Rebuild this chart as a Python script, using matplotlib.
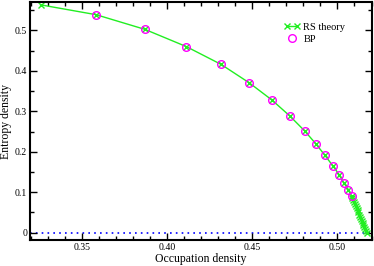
import matplotlib
matplotlib.use("Agg")
import matplotlib.pyplot as plt
from matplotlib.ticker import MultipleLocator, FixedLocator
from matplotlib.legend_handler import HandlerLine2D

plt.rcParams['font.family'] = ['Liberation Serif', 'DejaVu Serif']

# RS theory curve (occupation density, entropy density)
rs_x = [0.3259, 0.3585, 0.3870, 0.4113, 0.4318, 0.4484, 0.4617, 0.4722, 0.4808,
        0.4875, 0.4927, 0.4972, 0.5010, 0.5037, 0.5064, 0.5083,
        0.5088, 0.5093, 0.5098, 0.5103, 0.5108, 0.5113, 0.5118, 0.5123, 0.5128,
        0.5133, 0.5138, 0.5143, 0.5148, 0.5153, 0.5158, 0.5163, 0.5168, 0.5172]
rs_y = [0.563, 0.5386, 0.5025, 0.460, 0.4158, 0.370, 0.3275, 0.288, 0.2515,
        0.219, 0.191, 0.166, 0.1436, 0.1238, 0.1065, 0.0899,
        0.085, 0.080, 0.075, 0.070, 0.065, 0.060, 0.055, 0.050, 0.045,
        0.040, 0.035, 0.030, 0.025, 0.020, 0.015, 0.010, 0.005, 0.0]

# BP results
bp_x = [0.3585, 0.3870, 0.4113, 0.4318, 0.4484, 0.4617, 0.4722, 0.4808,
        0.4875, 0.4927, 0.4972, 0.5010, 0.5037, 0.5064, 0.5083]
bp_y = [0.5386, 0.5025, 0.460, 0.4158, 0.370, 0.3275, 0.288, 0.2515,
        0.219, 0.191, 0.166, 0.1436, 0.1238, 0.1065, 0.0899]

xticks = [0.35, 0.40, 0.45, 0.50]
xticklabels = ["0.35", "0.40", "0.45", "0.50"]
yticks = [0, 0.1, 0.2, 0.3, 0.4, 0.5]
yticklabels = ["0", "0.1", "0.2", "0.3", "0.4", "0.5"]

fig = plt.figure(figsize=(3.74, 2.66), dpi=100)
ax = fig.add_axes([0.0802, 0.0977, 0.9145, 0.8948])

ax.axhline(0, color='#0000ff', linestyle=(0, (1, 2.5)), linewidth=1.2, zorder=1)
rs_line, = ax.plot(rs_x, rs_y, color='#22ee22', linewidth=1.0, marker='x',
                   markersize=4, markeredgewidth=1.0, label='RS theory', zorder=2)
bp_line, = ax.plot(bp_x, bp_y, linestyle='none', marker='o', markersize=5.5,
                   markerfacecolor='none', markeredgecolor='#ff00ff',
                   markeredgewidth=1.0, label='BP', zorder=3)

ax.set_xlim(0.3197, 0.5203)
ax.set_ylim(-0.018, 0.57)
ax.xaxis.set_major_locator(FixedLocator(xticks))
ax.set_xticklabels(xticklabels)
ax.yaxis.set_major_locator(FixedLocator(yticks))
ax.set_yticklabels(yticklabels)
ax.xaxis.set_minor_locator(MultipleLocator(0.01))
ax.yaxis.set_minor_locator(MultipleLocator(0.05))
ax.tick_params(which='both', direction='in', top=True, right=True, labelsize=7,
               width=1.0, pad=2)
ax.tick_params(which='major', length=5)
ax.tick_params(which='minor', length=3)
for s in ax.spines.values():
    s.set_linewidth(1.5)

ax.set_xlabel('Occupation density', fontsize=8.5, labelpad=1)
ax.set_ylabel('Entropy density', fontsize=8.5, labelpad=2)

ax.legend(handles=[rs_line, bp_line], loc='upper left',
          bbox_to_anchor=(0.72, 0.945), frameon=False,
          fontsize=7.5, handlelength=1.6, handletextpad=0.3,
          labelspacing=0.25, borderpad=0.2,
          handler_map={rs_line: HandlerLine2D(numpoints=2),
                       bp_line: HandlerLine2D(numpoints=1)})

fig.savefig('out.png', dpi=100)
